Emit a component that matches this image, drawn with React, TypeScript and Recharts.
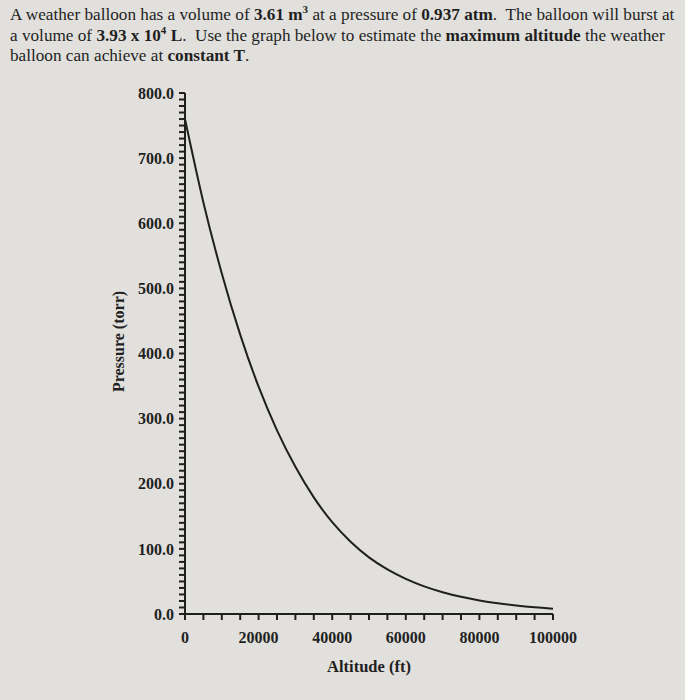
import React from 'react';
import { LineChart, Line, XAxis, YAxis, Label } from 'recharts';

const altitudeFt = [0, 5000, 10000, 15000, 20000, 25000, 30000, 35000, 40000, 45000, 50000, 55000, 60000, 65000, 70000, 75000, 80000, 85000, 90000, 95000, 100000];
const pressureTorr = [760, 632, 523, 429, 349, 282, 226, 179, 141, 111, 87, 68.5, 54, 42.5, 33.5, 26.4, 20.8, 16.4, 13, 10.3, 8.2];

const xLabeledTicks = [0, 20000, 40000, 60000, 80000, 100000];
const yLabeledTicks = [0, 100, 200, 300, 400, 500, 600, 700, 800];
const xMinorStep = 5000;
const yMinorStep = 10;

const xTicks = Array.from({ length: 100000 / xMinorStep + 1 }, (_, i) => i * xMinorStep);
const yTicks = Array.from({ length: 800 / yMinorStep + 1 }, (_, i) => i * yMinorStep);

const data = altitudeFt.map((a, i) => ({ altitude: a, pressure: pressureTorr[i] }));

const INK = '#1f1f1f';
const FONT = '"Liberation Serif", "Times New Roman", serif';

const tickStyle = { fill: INK, fontFamily: FONT, fontWeight: 700, fontSize: 16 };

export default function App() {
  return (
    <div
      style={{
        position: 'absolute',
        left: 0,
        top: 0,
        width: 685,
        height: 700,
        background: '#e1e0dc',
        overflow: 'hidden',
      }}
    >
      <div
        style={{
          position: 'absolute',
          left: 10,
          top: 5,
          fontFamily: FONT,
          fontSize: 17.2,
          lineHeight: '20.5px',
          color: INK,
          whiteSpace: 'pre',
        }}
      >
        {'A weather balloon has a volume of '}
        <b>3.61 m<sup style={{ fontSize: 11, lineHeight: 0 }}>3</sup></b>
        {' at a pressure of '}
        <b>0.937 atm</b>
        {'.  The balloon will burst at'}
        <br />
        {'a volume of '}
        <b>3.93 x 10<sup style={{ fontSize: 11, lineHeight: 0 }}>4</sup> L</b>
        {'.  Use the graph below to estimate the '}
        <b>maximum altitude</b>
        {' the weather'}
        <br />
        {'balloon can achieve at '}
        <b>constant T</b>
        {'.'}
      </div>
      <div style={{ position: 'absolute', left: 0, top: 0 }}>
        <LineChart
          width={685}
          height={700}
          data={data}
          margin={{ top: 93, right: 132, bottom: 26, left: 102 }}
        >
          <XAxis
            dataKey="altitude"
            type="number"
            domain={[0, 100000]}
            ticks={xTicks}
            interval={0}
            tickFormatter={(v: number) => (xLabeledTicks.includes(v) ? String(v) : '')}
            tick={tickStyle}
            tickSize={6}
            tickMargin={12}
            height={60}
            stroke={INK}
            strokeWidth={2}
            tickLine={{ stroke: INK, strokeWidth: 2 }}
          >
            <Label
              value="Altitude (ft)"
              position="insideBottom"
              offset={2}
              style={{ fill: INK, fontFamily: FONT, fontWeight: 700, fontSize: 16.5 }}
            />
          </XAxis>
          <YAxis
            dataKey="pressure"
            type="number"
            domain={[0, 800]}
            ticks={yTicks}
            interval={0}
            tickFormatter={(v: number) => (yLabeledTicks.includes(v) ? v.toFixed(1) : '')}
            tick={tickStyle}
            tickSize={6}
            tickMargin={5}
            width={83}
            stroke={INK}
            strokeWidth={2}
            tickLine={{ stroke: INK, strokeWidth: 2 }}
          >
            <Label
              content={(props: any) => {
                const vb = props.viewBox || {};
                const cx = vb.x + 16;
                const cy = vb.y + vb.height / 2 - 12;
                return (
                  <text
                    x={cx}
                    y={cy}
                    transform={`rotate(-90 ${cx} ${cy})`}
                    textAnchor="middle"
                    dominantBaseline="central"
                    fill={INK}
                    fontFamily={FONT}
                    fontWeight={700}
                    fontSize={16}
                  >
                    Pressure (torr)
                  </text>
                );
              }}
            />
          </YAxis>
          <Line
            type="monotone"
            dataKey="pressure"
            stroke={INK}
            strokeWidth={2}
            dot={false}
            isAnimationActive={false}
          />
        </LineChart>
      </div>
    </div>
  );
}
